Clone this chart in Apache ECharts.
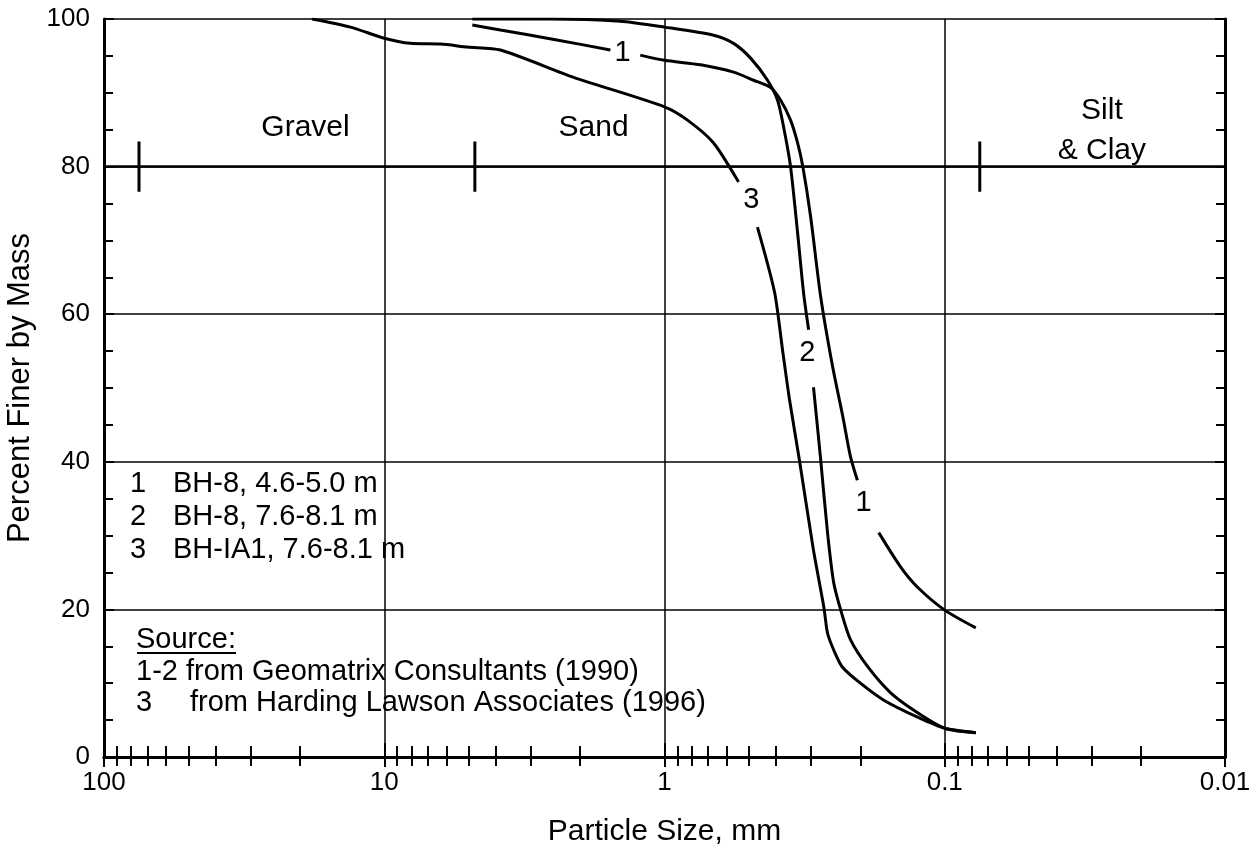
<!DOCTYPE html>
<html>
<head>
<meta charset="utf-8">
<script src="https://cdn.jsdelivr.net/npm/echarts@6/dist/echarts.min.js"></script>
<style>
html,body{margin:0;padding:0;background:#fff;}
#chart{width:1249px;height:849px;}
</style>
</head>
<body>
<div id="chart"></div>
<script>
// ---- data (particle size in mm, percent finer by mass); null = gap for inline label ----
const sizes1 = [4.85, 3.85, 2.45, 1.56, null, 1.22, 1.0, 0.743, 0.567, 0.481, 0.418, 0.385, 0.355, 0.335, 0.321, 0.301, 0.277, 0.251, 0.231, 0.217, 0.205, null, 0.172, 0.144, 0.125, 0.1, 0.0775];
const pct1   = [99.2, 98.5, 97.2, 95.8, null, 95.1, 94.4, 93.8, 92.8, 91.7, 90.7, 89.0, 86.3, 83.2, 80.0, 73.2, 62.3, 52.8, 46.1, 40.7, 37.5, null, 30.4, 25.8, 23.0, 19.9, 17.5];

const sizes2 = [4.85, 2.55, 1.44, 1.0, 0.668, 0.567, 0.493, 0.429, 0.395, 0.376, 0.355, 0.335, 0.319, 0.306, null, 0.294, 0.277, 0.262, 0.249, 0.235, 0.217, 0.188, 0.156, 0.125, 0.1, 0.0775];
const pct2   = [100, 100, 99.7, 98.9, 97.8, 96.7, 94.7, 91.7, 89.0, 85.4, 80.0, 71.0, 62.9, 57.9, null, 50.1, 40.2, 30.4, 23.6, 19.9, 15.9, 12.2, 8.7, 6.0, 3.9, 3.3];

const sizes3 = [18.1, 13.2, 10, 8.07, 6.31, 5.05, 3.85, 2.11, 1.0, 0.828, 0.668, 0.544, null, 0.466, 0.405, 0.379, 0.358, 0.330, 0.294, 0.270, 0.262, 0.249, 0.232, 0.200, 0.165, 0.125, 0.1, 0.0775];
const pct3   = [100, 98.9, 97.4, 96.7, 96.6, 96.2, 95.8, 92.1, 88.1, 86.3, 83.2, 77.9, null, 71.8, 63.0, 55.1, 48.4, 40.2, 28.0, 20.3, 16.8, 14.5, 12.2, 10.0, 7.7, 5.4, 3.9, 3.3];

// inline curve labels
const curveLabelText = ['1', '3', '2', '1'];
const curveLabelSize = [1.41, 0.49, 0.309, 0.195];
const curveLabelPct  = [95.4, 75.5, 54.7, 34.4];

// soil classification zones
const zoneNames = ['Gravel', 'Sand', 'Silt\n& Clay'];
const zoneSize  = [19.1, 1.79, 0.0275];
const zonePct   = [85.3, 85.3, 84.8];
const boundarySizes = [75, 4.75, 0.075];
const boundaryLow = 76.6, boundaryHigh = 83.4, boundaryLine = 80;

// tick labels
const xTickValues = [100, 10, 1, 0.1, 0.01];
const xTickLabels = ['100', '10', '1', '0.1', '0.01'];

// legend / source text
const legendNums = ['1', '2', '3'];
const legendTexts = ['BH-8, 4.6-5.0 m', 'BH-8, 7.6-8.1 m', 'BH-IA1, 7.6-8.1 m'];
const sourceLines = ['1-2 from Geomatrix Consultants (1990)', 'from Harding Lawson Associates (1996)'];

// ---- build ----
const FONT = "'Liberation Sans', Arial, Helvetica, sans-serif";
function segments(xs, ys) {
  const out = []; let cur = [];
  for (let i = 0; i < xs.length; i++) {
    if (xs[i] === null) { if (cur.length) out.push(cur); cur = []; }
    else cur.push([xs[i], ys[i]]);
  }
  if (cur.length) out.push(cur);
  return out;
}
const series = [];
[[sizes1, pct1], [sizes2, pct2], [sizes3, pct3]].forEach(([xs, ys]) => {
  segments(xs, ys).forEach(seg => {
    series.push({
      type: 'line', data: seg, smooth: 0.25, showSymbol: false, silent: true,
      itemStyle: { color: '#000' },
      lineStyle: { color: '#000', width: 3 }, z: 5
    });
  });
});
boundarySizes.forEach((s, i) => {
  const ser = {
    type: 'line', data: [[s, boundaryLow], [s, boundaryHigh]], showSymbol: false, silent: true,
    itemStyle: { color: '#000' },
    lineStyle: { color: '#000', width: 3 }, z: 4
  };
  if (i === 0) {
    ser.markLine = {
      silent: true, symbol: 'none', label: { show: false },
      lineStyle: { color: '#000', width: 2.5, type: 'solid' },
      data: [{ yAxis: boundaryLine }]
    };
  }
  series.push(ser);
});
const labelBase = { show: true, position: 'inside', formatter: p => p.name, color: '#000', opacity: 1, fontFamily: FONT, textBorderWidth: 0, textShadowBlur: 0 };
series.push({
  type: 'scatter', symbolSize: 0, silent: true, z: 6,
  itemStyle: { color: '#000', opacity: 1 },
  data: curveLabelText.map((t, i) => ({ value: [curveLabelSize[i], curveLabelPct[i]], name: t })),
  label: Object.assign({}, labelBase, { fontSize: 29 })
});
series.push({
  type: 'scatter', symbolSize: 0, silent: true, z: 6,
  itemStyle: { color: '#000', opacity: 1 },
  data: zoneNames.map((t, i) => ({ value: [zoneSize[i], zonePct[i]], name: t })),
  label: Object.assign({}, labelBase, { fontSize: 30, lineHeight: 40, align: 'center' })
});

function fmtX(v) {
  const k = Math.round(Math.log10(v));
  const idx = xTickValues.findIndex(t => Math.round(Math.log10(t)) === k);
  return idx >= 0 ? xTickLabels[idx] : '';
}

const axisLineStyle = { color: '#000', width: 3 };
const gridLine = { show: true, lineStyle: { color: '#000', width: 1.5 } };

const graphic = [];
const TF = '29px ' + FONT;
const legendY = [484, 517, 550];
legendNums.forEach((n, i) => {
  graphic.push({ type: 'text', x: 130, y: legendY[i], style: { text: n, font: TF, fill: '#000', verticalAlign: 'middle' } });
  graphic.push({ type: 'text', x: 173, y: legendY[i], style: { text: legendTexts[i], font: TF, fill: '#000', verticalAlign: 'middle' } });
});
graphic.push({ type: 'text', x: 136, y: 640, style: { text: 'Source:', font: TF, fill: '#000', verticalAlign: 'middle' } });
graphic.push({ type: 'line', shape: { x1: 137, y1: 653, x2: 236, y2: 653 }, style: { stroke: '#000', lineWidth: 2 } });
graphic.push({ type: 'text', x: 136, y: 672, style: { text: sourceLines[0], font: TF, fill: '#000', verticalAlign: 'middle' } });
graphic.push({ type: 'text', x: 136, y: 703, style: { text: '3', font: TF, fill: '#000', verticalAlign: 'middle' } });
graphic.push({ type: 'text', x: 190, y: 703, style: { text: sourceLines[1], font: TF, fill: '#000', verticalAlign: 'middle' } });

const option = {
  backgroundColor: '#fff',
  animation: false,
  grid: { left: 104, right: 24, top: 19, bottom: 92, containLabel: false, outerBoundsMode: 'none' },
  xAxis: [{
    type: 'log', logBase: 10, min: 0.01, max: 100, inverse: true, position: 'bottom',
    name: 'Particle Size, mm', nameLocation: 'middle', nameGap: 60,
    nameTextStyle: { color: '#000', fontSize: 30, fontFamily: FONT },
    axisLine: { show: true, lineStyle: axisLineStyle },
    axisTick: { show: true, inside: true, length: 14, lineStyle: { color: '#000', width: 2 } },
    minorTick: { show: true, splitNumber: 9, length: 11, lineStyle: { color: '#000', width: 2 } },
    axisLabel: { color: '#000', fontSize: 26, fontFamily: FONT, margin: 13, formatter: fmtX },
    splitLine: gridLine
  }, {
    type: 'log', logBase: 10, min: 0.01, max: 100, inverse: true, position: 'top',
    axisLine: { show: true, lineStyle: axisLineStyle },
    axisTick: { show: true, inside: true, length: 10, lineStyle: { color: '#000', width: 2 } },
    minorTick: { show: true, splitNumber: 9, length: 9, lineStyle: { color: '#000', width: 2 } },
    axisLabel: { show: false },
    splitLine: { show: false }
  }],
  yAxis: [{
    type: 'value', min: 0, max: 100, interval: 20, position: 'left',
    name: 'Percent Finer by Mass', nameLocation: 'middle', nameGap: 63,
    nameTextStyle: { color: '#000', fontSize: 31, fontFamily: FONT },
    axisLine: { show: true, lineStyle: axisLineStyle },
    axisTick: { show: true, inside: true, length: 10, lineStyle: { color: '#000', width: 2 } },
    minorTick: { show: true, splitNumber: 4, length: 9, lineStyle: { color: '#000', width: 2 } },
    axisLabel: { color: '#000', fontSize: 26, fontFamily: FONT, margin: 14 },
    splitLine: gridLine
  }, {
    type: 'value', min: 0, max: 100, interval: 20, position: 'right',
    axisLine: { show: true, lineStyle: axisLineStyle },
    axisTick: { show: true, inside: true, length: 10, lineStyle: { color: '#000', width: 2 } },
    minorTick: { show: true, splitNumber: 4, length: 9, lineStyle: { color: '#000', width: 2 } },
    axisLabel: { show: false },
    splitLine: { show: false }
  }],
  series: series,
  graphic: graphic
};
const chart = echarts.init(document.getElementById('chart'), null, { renderer: 'canvas' });
chart.setOption(option);
</script>
</body>
</html>
